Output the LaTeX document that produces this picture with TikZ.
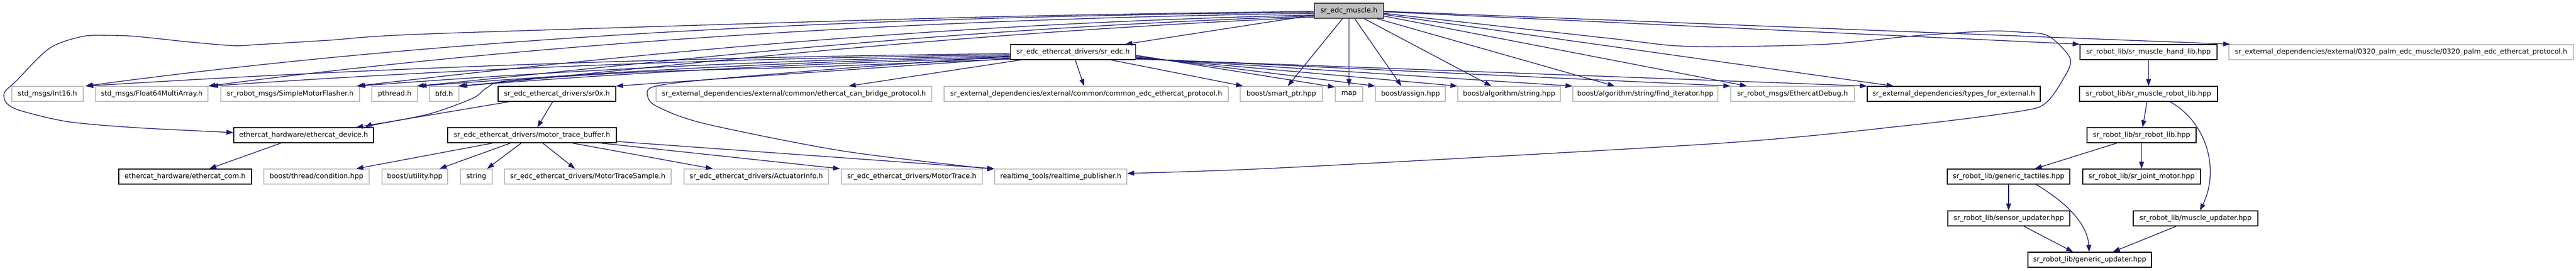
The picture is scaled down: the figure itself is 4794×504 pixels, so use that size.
\documentclass[tikz,border=0pt]{standalone}
\usepackage{fontspec}
\setmainfont{DejaVu Sans}
\usetikzlibrary{arrows.meta}
\definecolor{edgec}{HTML}{191970}
\definecolor{greyb}{HTML}{BFBFBF}
\definecolor{rootf}{HTML}{BFBFBF}
\definecolor{rootb}{HTML}{404040}
\begin{document}
\begin{tikzpicture}[x=1pt,y=-1pt,
  box/.style={rectangle, minimum height=28pt, inner sep=0pt, line width=1.3pt, fill=white,
    font=\fontsize{12.84pt}{15pt}\selectfont},
  docbox/.style={box, draw=black},
  extbox/.style={box, draw=greyb},
  rootbox/.style={box, draw=rootb, fill=rootf},
  edge/.style={draw=edgec, line width=1.3pt, -{Triangle[length=13pt,width=9pt]}},
]
\fill[white] (0,0) rectangle (4794,504);
\useasboundingbox (0,0) rectangle (4794,504);

% row 0
\node[rootbox, minimum width=129pt] (root) at (2510.5,20) {sr\_edc\_muscle.h};
% row 1
\node[docbox, minimum width=233pt] (sredc) at (1997,97) {sr\_edc\_ethercat\_drivers/sr\_edc.h};
\node[docbox, minimum width=255pt] (handlib) at (3998.5,97) {sr\_robot\_lib/sr\_muscle\_hand\_lib.hpp};
\node[extbox, minimum width=641pt] (p0320) at (4468.5,97) {sr\_external\_dependencies/external/0320\_palm\_edc\_muscle/0320\_palm\_edc\_ethercat\_protocol.h};
% row 2
\node[extbox, minimum width=133pt] (int16) at (88.5,175) {std\_msgs/Int16.h};
\node[extbox, minimum width=209pt] (float64) at (282.5,175) {std\_msgs/Float64MultiArray.h};
\node[extbox, minimum width=258pt] (flasher) at (540,175) {sr\_robot\_msgs/SimpleMotorFlasher.h};
\node[extbox, minimum width=85pt] (pthread) at (734.5,175) {pthread.h};
\node[extbox, minimum width=55pt] (bfd) at (826.5,175) {bfd.h};
\node[docbox, minimum width=219pt] (sr0x) at (1036.5,175) {sr\_edc\_ethercat\_drivers/sr0x.h};
\node[extbox, minimum width=513pt] (canbridge) at (1477.5,175) {sr\_external\_dependencies/external/common/ethercat\_can\_bridge\_protocol.h};
\node[extbox, minimum width=529pt] (common) at (2021.5,175) {sr\_external\_dependencies/external/common/common\_edc\_ethercat\_protocol.h};
\node[extbox, minimum width=153pt] (smartptr) at (2384.5,175) {boost/smart\_ptr.hpp};
\node[extbox, minimum width=51pt] (map) at (2510.5,175) {map};
\node[extbox, minimum width=130pt] (assign) at (2625,175) {boost/assign.hpp};
\node[extbox, minimum width=191pt] (algstring) at (2808.5,175) {boost/algorithm/string.hpp};
\node[extbox, minimum width=270pt] (finditer) at (3062,175) {boost/algorithm/string/find\_iterator.hpp};
\node[extbox, minimum width=230pt] (ethdebug) at (3336,175) {sr\_robot\_msgs/EthercatDebug.h};
\node[docbox, minimum width=322pt] (types) at (3636,175) {sr\_external\_dependencies/types\_for\_external.h};
\node[docbox, minimum width=257pt] (musclerobot) at (3998.5,175) {sr\_robot\_lib/sr\_muscle\_robot\_lib.hpp};
% row 3
\node[docbox, minimum width=260pt] (device) at (565,252) {ethercat\_hardware/ethercat\_device.h};
\node[docbox, minimum width=314pt] (mtb) at (990,252) {sr\_edc\_ethercat\_drivers/motor\_trace\_buffer.h};
\node[docbox, minimum width=203pt] (srrobotlib) at (3985.5,252) {sr\_robot\_lib/sr\_robot\_lib.hpp};
% row 4
\node[docbox, minimum width=247pt] (com) at (344.5,329) {ethercat\_hardware/ethercat\_com.h};
\node[extbox, minimum width=196pt] (condition) at (589,329) {boost/thread/condition.hpp};
\node[extbox, minimum width=122pt] (utility) at (772,329) {boost/utility.hpp};
\node[extbox, minimum width=59pt] (string) at (886.5,329) {string};
\node[extbox, minimum width=310pt] (sample) at (1094,329) {sr\_edc\_ethercat\_drivers/MotorTraceSample.h};
\node[extbox, minimum width=269pt] (actuator) at (1407.5,329) {sr\_edc\_ethercat\_drivers/ActuatorInfo.h};
\node[extbox, minimum width=262pt] (motortrace) at (1697,329) {sr\_edc\_ethercat\_drivers/MotorTrace.h};
\node[extbox, minimum width=246pt] (rtpub) at (1974,329) {realtime\_tools/realtime\_publisher.h};
\node[docbox, minimum width=228pt] (tactiles) at (3738,329) {sr\_robot\_lib/generic\_tactiles.hpp};
\node[docbox, minimum width=219pt] (jointmotor) at (3985.5,329) {sr\_robot\_lib/sr\_joint\_motor.hpp};
% row 5
\node[docbox, minimum width=227pt] (sensor) at (3738.5,407) {sr\_robot\_lib/sensor\_updater.hpp};
\node[docbox, minimum width=232pt] (muscleupd) at (4086,407) {sr\_robot\_lib/muscle\_updater.hpp};
% row 6
\node[docbox, minimum width=230pt] (generic) at (3889,484) {sr\_robot\_lib/generic\_updater.hpp};

% ---------- edges from root ----------
\draw[edge] ([yshift=-8pt]root.west) -- ([xshift=-20pt]sredc.north east);
\draw[edge] ([yshift=-2pt]root.east) -- (handlib.north west);
\draw[edge] ([yshift=-1pt]root.east) -- ([xshift=3pt]p0320.north west);
\draw[edge] ([xshift=-12pt]root.south) -- ([xshift=12pt]smartptr.north);
\draw[edge] (root.south) -- (map.north);
\draw[edge] ([xshift=10.5pt]root.south) -- ([xshift=-17pt]assign.north);
\draw[edge] ([xshift=28pt]root.south) -- ([xshift=-33pt]algstring.north);
\draw[edge] ([xshift=52pt]root.south) -- ([xshift=-57pt]finditer.north);
\draw[edge] ([yshift=-10pt]root.east) -- ([xshift=-85pt]ethdebug.north);
\draw[edge] ([yshift=-7pt]root.east) -- ([xshift=-112pt]types.north);
\coordinate (rtA) at ([yshift=-5pt]root.east);
\coordinate (rtB) at ([yshift=6pt]rtpub.east);
\draw[edge] plot[smooth, tension=0.5] coordinates {(rtA) (3000,72) (3114,85) (3215,87) (3406,82) (3560,67) (3700,58) (3761,60) (3812,67) (3853,110) (3838,150) (3807,192) (3761,207) (3557,233) (3200,267) (2400,312) (rtB)};
\coordinate (dvA) at ([yshift=-1pt]root.west);
\coordinate (dvB) at ([yshift=5pt]device.west);
\draw[edge] plot[smooth, tension=0.5] coordinates {(dvA) (2000,28) (1600,38) (800,63) (612,75) (480,83) (434,85) (350,78) (255,68) (204,66) (153,68) (92,90) (31,150) (8,173) (13,193) (41,207) (128,227) (255,238) (dvB)};
\draw[edge] ([yshift=-3pt]root.west) .. controls (1700,30) and (900,60) .. ([xshift=3pt]int16.north east);
\draw[edge] ([yshift=-5pt]root.west) .. controls (1700,35) and (1000,80) .. (float64.north east);
\draw[edge] ([yshift=-8pt]root.west) .. controls (1700,45) and (1100,110) .. ([xshift=-6pt]flasher.north east);
\draw[edge] ([yshift=-10pt]root.west) .. controls (1700,55) and (1150,125) .. ([xshift=-2pt]pthread.north east);
\draw[edge] ([yshift=-12pt]root.west) .. controls (1700,65) and (1150,135) .. ([xshift=-2pt]bfd.north east);

% ---------- edges from sr_edc.h ----------
\draw[edge] ([yshift=-3pt]sredc.west) .. controls (1400,105) and (800,120) .. ([xshift=5pt]int16.north east);
\draw[edge] ([yshift=-5pt]sredc.west) .. controls (1400,108) and (900,125) .. ([xshift=5pt]float64.north east);
\draw[edge] ([yshift=-7pt]sredc.west) .. controls (1400,112) and (1000,135) .. ([xshift=-3pt]flasher.north east);
\draw[edge] ([yshift=-9pt]sredc.west) .. controls (1400,116) and (1050,140) .. ([xshift=3pt]pthread.north east);
\draw[edge] ([yshift=-11pt]sredc.west) .. controls (1400,120) and (1050,145) .. ([xshift=2pt]bfd.north east);
\coordinate (sdA) at ([yshift=-13pt]sredc.west);
\coordinate (sdB) at ([xshift=-16pt]device.north east);
\draw[edge] plot[smooth, tension=0.5] coordinates {(sdA) (1500,125) (1200,134) (950,150) (907,163) (880,183) (800,212) (700,232) (sdB)};
\draw[edge] ([yshift=-12pt]sredc.west) -- (sr0x.north east);
\draw[edge] ([xshift=20pt]sredc.south west) -- ([xshift=102pt]canbridge.north);
\draw[edge] ([xshift=4pt]sredc.south) -- ([xshift=-4pt]common.north);
\coordinate (srA) at ([yshift=-8pt]sredc.west);
\draw[edge] plot[smooth, tension=0.5] coordinates {(srA) (1600,125) (1300,150) (1215,162) (1205,178) (1222,198) (1310,230) (1560,280) (1800,310) (rtpub.north west)};
\draw[edge] ([xshift=-47pt]sredc.south east) -- ([xshift=6pt]smartptr.north west);
\draw[edge] ([yshift=-6pt]sredc.east) -- ([yshift=-2pt]map.north west);
\draw[edge] ([yshift=-8pt]sredc.east) -- (assign.north west);
\draw[edge] ([yshift=-10pt]sredc.east) -- (algstring.north west);
\draw[edge] ([yshift=-11pt]sredc.east) -- (finditer.north west);
\draw[edge] ([yshift=-12pt]sredc.east) -- (ethdebug.north west);
\draw[edge] ([yshift=-13pt]sredc.east) -- (types.north west);

% ---------- sr0x and motor_trace_buffer ----------
\draw[edge] ([xshift=21pt]sr0x.south west) -- ([xshift=-33pt]device.north east);
\draw[edge] ([xshift=-8pt]sr0x.south) -- ([xshift=10pt]mtb.north);
\draw[edge] ([xshift=-73pt]mtb.south) -- ([xshift=74pt]condition.north);
\draw[edge] ([xshift=-40pt]mtb.south) -- ([xshift=46pt]utility.north);
\draw[edge] ([xshift=-20pt]mtb.south) -- ([xshift=20pt]string.north);
\draw[edge] ([xshift=20pt]mtb.south) -- ([xshift=-24pt]sample.north);
\draw[edge] ([xshift=75pt]mtb.south) -- ([xshift=-81pt]actuator.north);
\draw[edge] ([xshift=128pt]mtb.south) -- ([xshift=-2pt]motortrace.north west);
\draw[edge] ([yshift=3pt]mtb.south east) -- (rtpub.north west);
\draw[edge] ([xshift=-42pt]device.south) -- ([xshift=45pt]com.north);

% ---------- robot lib chain ----------
\draw[edge] (handlib.south) -- (musclerobot.north);
\draw[edge] ([xshift=-3pt]musclerobot.south) -- ([xshift=2pt]srrobotlib.north);
\draw[edge] ([xshift=40pt]musclerobot.south) .. controls (4110,230) and (4130,320) .. ([xshift=8pt]muscleupd.north);
\draw[edge] ([xshift=-46pt]srrobotlib.south) -- ([xshift=49pt]tactiles.north);
\draw[edge] (srrobotlib.south) -- (jointmotor.north);
\draw[edge] (tactiles.south) -- ([xshift=-0.5pt]sensor.north);
\draw[edge] ([xshift=51pt]tactiles.south) .. controls (3850,380) and (3885,420) .. ([xshift=-1pt]generic.north);
\draw[edge] ([xshift=28pt]sensor.south) -- ([xshift=-31pt]generic.north);
\draw[edge] ([xshift=-36pt]muscleupd.south) -- ([xshift=43pt]generic.north);
\end{tikzpicture}
\end{document}
